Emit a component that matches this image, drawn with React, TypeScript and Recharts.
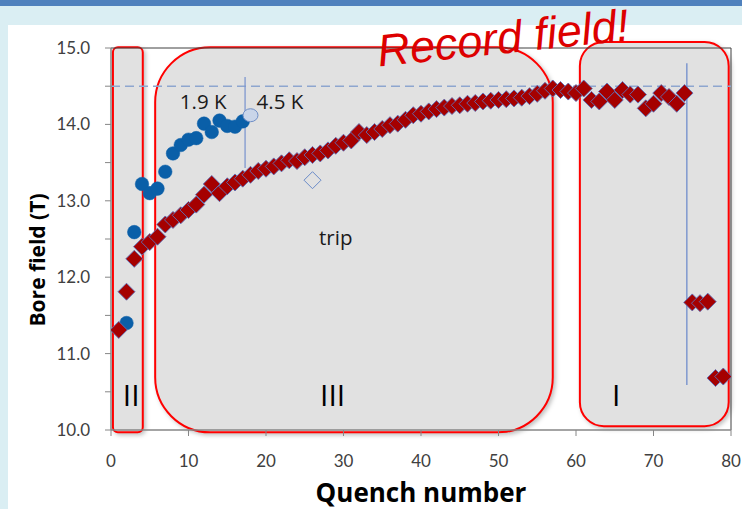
import React from 'react';
import {
  ScatterChart,
  Scatter,
  XAxis,
  YAxis,
  ReferenceArea,
  ReferenceLine,
  ReferenceDot,
} from 'recharts';

// ---- data ----
const redQuench = [
  1, 2, 3, 4, 5, 6, 7, 8, 9, 10, 11, 12, 13, 14, 15, 16, 17, 18, 19, 20,
  21, 22, 23, 24, 25, 26, 27, 28, 29, 30, 31, 32, 33, 34, 35, 36, 37, 38, 39, 40,
  41, 42, 43, 44, 45, 46, 47, 48, 49, 50, 51, 52, 53, 54, 55, 56, 57, 58, 59, 60,
  61, 62, 63, 64, 65, 66, 67, 68, 69, 70, 71, 72, 73, 74, 75, 76, 77, 78, 79,
];
const redField = [
  11.31, 11.81, 12.24, 12.40, 12.46, 12.53, 12.69, 12.75, 12.81, 12.88,
  12.95, 13.08, 13.22, 13.10, 13.19, 13.24, 13.29, 13.34, 13.39, 13.42,
  13.45, 13.49, 13.53, 13.52, 13.57, 13.60, 13.62, 13.66, 13.72, 13.76,
  13.79, 13.90, 13.86, 13.90, 13.94, 13.99, 14.01, 14.06, 14.12, 14.14,
  14.17, 14.20, 14.22, 14.24, 14.25, 14.27, 14.28, 14.30, 14.31, 14.32,
  14.33, 14.34, 14.35, 14.37, 14.40, 14.44, 14.47, 14.45, 14.43, 14.41,
  14.47, 14.32, 14.30, 14.43, 14.32, 14.45, 14.39, 14.39, 14.21, 14.27,
  14.41, 14.36, 14.27, 14.41, 11.67, 11.66, 11.68, 10.68, 10.70,
];
const blueQuench = [2, 3, 4, 5, 6, 7, 8, 9, 10, 11, 12, 13, 14, 15, 16, 17];
const blueField = [
  11.40, 12.59, 13.22, 13.10, 13.16, 13.38, 13.62, 13.73, 13.80, 13.82,
  14.01, 13.90, 14.05, 13.98, 13.97, 14.04,
];
const paleQuench = [18];
const paleField = [14.12];
const tripQuench = [26];
const tripField = [13.27];

const xTicks = [0, 10, 20, 30, 40, 50, 60, 70, 80];
const yTicks = [10, 10.5, 11, 11.5, 12, 12.5, 13, 13.5, 14, 14.5, 15];
const recordField = 14.5;

const zip = (qs: number[], bs: number[]) => qs.map((q, i) => ({ q, b: bs[i] }));
const redData = zip(redQuench, redField);
const blueData = zip(blueQuench, blueField);
const paleData = zip(paleQuench, paleField);
const tripData = zip(tripQuench, tripField);

const FONT = 'Lato, "Open Sans", sans-serif';
const LFONT = '"Open Sans", sans-serif';

const Diamond = (props: any) => {
  const { cx, cy } = props;
  const r = 8.5;
  return (
    <polygon
      points={`${cx},${cy - r} ${cx + r},${cy} ${cx},${cy + r} ${cx - r},${cy}`}
      fill="#A50000"
      stroke="#5F6FB8"
      strokeWidth={0.9}
    />
  );
};

const OpenDiamond = (props: any) => {
  const { cx, cy } = props;
  const r = 8.5;
  return (
    <polygon
      points={`${cx},${cy - r} ${cx + r},${cy} ${cx},${cy + r} ${cx - r},${cy}`}
      fill="none"
      stroke="#6A8BC8"
      strokeWidth={1}
    />
  );
};

const BlueDot = (props: any) => (
  <circle cx={props.cx} cy={props.cy} r={6.8} fill="#0A5FA8" stroke="#0A5FA8" strokeWidth={0.5} />
);
const PaleDot = (props: any) => (
  <ellipse cx={props.cx} cy={props.cy} rx={7.5} ry={6.5} fill="#C9D5E9" stroke="#6F8EC6" strokeWidth={1} />
);

const regionShape = (rx: number) => (props: any) => (
  <rect
    x={props.x}
    y={props.y}
    width={props.width}
    height={props.height}
    rx={rx}
    ry={rx}
    fill="#E1E1E1"
    stroke="#FF0000"
    strokeWidth={2}
    style={{ filter: 'drop-shadow(2px 2px 2px rgba(0,0,0,0.25))' }}
  />
);

const textShape = (txt: string, size: number, extra: any = {}) => (props: any) => (
  <text
    x={props.cx}
    y={props.cy}
    textAnchor="middle"
    fontFamily={LFONT}
    fontSize={size}
    fill="#1a1a1a"
    {...extra}
  >
    {txt}
  </text>
);

const recordShape = (props: any) => (
  <text
    x={props.cx}
    y={props.cy}
    textAnchor="middle"
    fontFamily='"Liberation Sans", Arial, sans-serif'
    fontStyle="italic"
    fontSize={45}
    fill="#DD0000"
    transform={`rotate(-6 ${props.cx} ${props.cy})`}
  >
    Record field!
  </text>
);

export default function App() {
  return (
    <div
      style={{
        position: 'absolute',
        left: 0,
        top: 0,
        width: 742,
        height: 509,
        background: '#DAEEF3',
        overflow: 'hidden',
      }}
    >
      <div style={{ position: 'absolute', left: 0, top: 0, width: 742, height: 6, background: '#4F81BD' }} />
      <div style={{ position: 'absolute', left: 8, top: 25, width: 734, height: 484, background: '#FFFFFF' }} />
      <div style={{ position: 'absolute', left: 0, top: 0 }}>
        <ScatterChart width={742} height={509} margin={{ top: 48, right: 11, bottom: 0, left: 0 }}>
          <XAxis
            type="number"
            dataKey="q"
            domain={[0, 80]}
            ticks={xTicks}
            allowDataOverflow
            height={79}
            tickSize={6}
            tickMargin={19}
            axisLine={{ stroke: '#868686', strokeWidth: 1.5 }}
            tickLine={{ stroke: '#868686' }}
            tick={{ fill: '#404040', fontSize: 17, fontFamily: FONT }}
            label={{
              content: () => (
                <text x={421} y={502} textAnchor="middle" fontFamily={LFONT} fontWeight="bold" fontSize={26} fill="#000">
                  Quench number
                </text>
              ),
            }}
          />
          <YAxis
            type="number"
            dataKey="b"
            domain={[10, 15]}
            ticks={yTicks}
            allowDataOverflow
            width={111}
            tickSize={6}
            tickMargin={15}
            tickFormatter={(v: number) => (Number.isInteger(v) ? v.toFixed(1) : '')}
            axisLine={{ stroke: '#868686', strokeWidth: 1.5 }}
            tickLine={{ stroke: '#868686' }}
            tick={{ fill: '#404040', fontSize: 17, fontFamily: FONT }}
            label={{
              content: () => (
                <text
                  x={45}
                  y={260}
                  textAnchor="middle"
                  fontFamily={LFONT}
                  fontWeight="bold"
                  fontSize={21}
                  fill="#000"
                  transform="rotate(-90 45 260)"
                >
                  Bore field (T)
                </text>
              ),
            }}
          />
          {/* plot frame top/right */}
          <ReferenceLine y={15} stroke="#404040" strokeWidth={1} ifOverflow="visible" />
          <ReferenceLine x={80} stroke="#404040" strokeWidth={1} ifOverflow="visible" />

          <ReferenceArea x1={0.25} x2={4.1} y1={9.97} y2={15.01} ifOverflow="visible" shape={regionShape(5)} />
          <ReferenceArea x1={5.7} x2={57.0} y1={9.97} y2={15.01} ifOverflow="visible" shape={regionShape(55)} />
          <ReferenceArea x1={60.5} x2={79.7} y1={10.05} y2={15.08} ifOverflow="visible" shape={regionShape(24)} />

          <ReferenceLine y={recordField} stroke="#8EA6CF" strokeWidth={1.5} strokeDasharray="9 5" />
          <ReferenceLine
            segment={[{ x: 17.3, y: 14.62 }, { x: 17.3, y: 13.43 }]}
            stroke="#7F98CF"
            strokeWidth={1.3}
          />
          <ReferenceLine
            segment={[{ x: 74.3, y: 14.8 }, { x: 74.3, y: 10.59 }]}
            stroke="#7F98CF"
            strokeWidth={1.5}
          />

          <ReferenceDot x={11.9} y={14.2} r={0} ifOverflow="visible" shape={textShape('1.9 K', 20.5)} />
          <ReferenceDot x={21.8} y={14.2} r={0} ifOverflow="visible" shape={textShape('4.5 K', 20.5)} />
          <ReferenceDot x={29.0} y={12.42} r={0} ifOverflow="visible" shape={textShape('trip', 20.5)} />
          <ReferenceDot x={2.6} y={10.32} r={0} ifOverflow="visible" shape={textShape('II', 30, { fill: '#000' })} />
          <ReferenceDot x={28.6} y={10.32} r={0} ifOverflow="visible" shape={textShape('III', 30, { fill: '#000' })} />
          <ReferenceDot x={65.2} y={10.32} r={0} ifOverflow="visible" shape={textShape('I', 30, { fill: '#000' })} />
          <ReferenceDot x={50.8} y={14.93} r={0} ifOverflow="visible" shape={recordShape} />

          <Scatter data={tripData} shape={OpenDiamond} isAnimationActive={false} />
          <Scatter data={blueData} shape={BlueDot} isAnimationActive={false} />
          <Scatter data={paleData} shape={PaleDot} isAnimationActive={false} />
          <Scatter data={redData} shape={Diamond} isAnimationActive={false} />
        </ScatterChart>
      </div>
    </div>
  );
}
